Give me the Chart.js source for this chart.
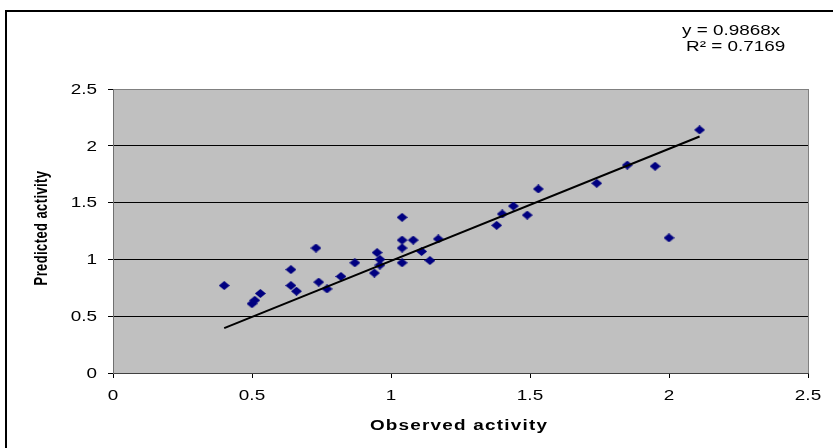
<!DOCTYPE html>
<html lang="en">
<head>
<meta charset="UTF-8">
<title>Observed vs predicted activity</title>
<script src="https://cdn.jsdelivr.net/npm/chart.js"></script>
<style>
  body { margin: 0; background: #fff; }
  canvas { display: block; }
</style>
</head>
<body>
<canvas id="chart" width="833" height="448"></canvas>
<script>
// observed / predicted activity
var observed = [0.40, 0.50, 0.51, 0.53, 0.64, 0.64, 0.66, 0.73, 0.74, 0.77,
                0.82, 0.87, 0.94, 0.95, 0.96, 0.96, 1.04, 1.04, 1.04, 1.04,
                1.08, 1.11, 1.14, 1.17, 1.38, 1.40, 1.44, 1.49, 1.53, 1.74,
                1.85, 1.95, 2.00, 2.11];
var predicted = [0.77, 0.61, 0.64, 0.70, 0.91, 0.77, 0.72, 1.10, 0.80, 0.74,
                 0.85, 0.97, 0.88, 1.06, 1.00, 0.95, 1.37, 1.17, 1.10, 0.97,
                 1.17, 1.07, 0.99, 1.18, 1.30, 1.40, 1.47, 1.39, 1.62, 1.67,
                 1.83, 1.82, 1.19, 2.14];
var xTicks = ['0', '0.5', '1', '1.5', '2', '2.5'];
var yTicks = ['0', '0.5', '1', '1.5', '2', '2.5'];
var slope = 0.9868;
var rSquared = '0.7169';

var points = observed.map(function (x, i) { return { x: x, y: predicted[i] }; });
var xMin = Math.min.apply(null, observed);
var xMax = Math.max.apply(null, observed);
var trend = [{ x: xMin, y: slope * xMin }, { x: xMax, y: slope * xMax }];

// slightly wide diamond marker
var diamond = document.createElement('canvas');
diamond.width = 11; diamond.height = 9;
var dc = diamond.getContext('2d');
dc.fillStyle = '#000080';
dc.beginPath();
dc.moveTo(5.5, 0); dc.lineTo(11, 4.5); dc.lineTo(5.5, 9); dc.lineTo(0, 4.5);
dc.closePath(); dc.fill();

var FONT = "'Liberation Sans', Arial, sans-serif";
var STRETCH = 1.35;

function wideText(ctx, text, x, y, align) {
  ctx.save();
  ctx.translate(x, y);
  ctx.scale(STRETCH, 1);
  ctx.textAlign = align;
  ctx.fillText(text, 0, 0);
  ctx.restore();
}

var excelLook = {
  id: 'excelLook',
  beforeDraw: function (chart) {
    var ctx = chart.ctx, a = chart.chartArea;
    ctx.save();
    ctx.fillStyle = '#c0c0c0';
    ctx.fillRect(a.left, a.top, a.right - a.left, a.bottom - a.top);
    ctx.restore();
  },
  beforeDatasetsDraw: function (chart) {
    var ctx = chart.ctx, a = chart.chartArea;
    ctx.save();
    ctx.strokeStyle = '#808080';
    ctx.lineWidth = 1;
    ctx.beginPath();
    ctx.moveTo(a.right + 0.5, a.top);
    ctx.lineTo(a.right + 0.5, a.bottom);
    ctx.stroke();
    ctx.restore();
  },
  afterDraw: function (chart) {
    var ctx = chart.ctx;
    var xs = chart.scales.x, ys = chart.scales.y;
    ctx.save();
    // outer chart frame
    ctx.fillStyle = '#000';
    ctx.fillRect(5, 10, 2, 448);
    ctx.fillRect(5, 10, 828, 2);

    ctx.fillStyle = '#000';
    ctx.font = '14px ' + FONT;
    ctx.textBaseline = 'middle';
    yTicks.forEach(function (t) {
      wideText(ctx, t, 97, ys.getPixelForValue(parseFloat(t)) + 1, 'right');
    });
    xTicks.forEach(function (t) {
      wideText(ctx, t, xs.getPixelForValue(parseFloat(t)), 396, 'center');
    });

    // trendline label
    wideText(ctx, 'y = ' + slope + 'x', 682, 31, 'left');
    wideText(ctx, 'R\u00b2 = ' + rSquared, 686, 47, 'left');

    // axis titles
    ctx.font = 'bold 14px ' + FONT;
    ctx.letterSpacing = '0.9px';
    wideText(ctx, 'Observed activity', 459, 426, 'center');

    ctx.font = 'bold 13px ' + FONT;
    ctx.letterSpacing = '0.4px';
    ctx.save();
    ctx.translate(42, 228);
    ctx.scale(STRETCH, 1);
    ctx.rotate(-Math.PI / 2);
    ctx.textAlign = 'center';
    ctx.fillText('Predicted activity', 0, 0);
    ctx.restore();
    ctx.letterSpacing = '0px';
    ctx.restore();
  }
};

new Chart(document.getElementById('chart'), {
  type: 'scatter',
  data: {
    datasets: [{
      type: 'line',
      data: trend,
      borderColor: '#000',
      borderWidth: 2,
      pointRadius: 0,
      fill: false
    }, {
      data: points,
      pointStyle: diamond,
      pointRadius: 5
    }]
  },
  options: {
    responsive: false,
    animation: false,
    layout: { padding: { left: 0, top: 89, right: 25, bottom: 0 } },
    plugins: { legend: { display: false }, tooltip: { enabled: false } },
    scales: {
      x: {
        type: 'linear',
        min: 0, max: 2.5,
        ticks: { stepSize: 0.5, display: false },
        grid: { drawOnChartArea: false, drawTicks: true, tickLength: 5, color: '#000' },
        border: { color: '#404040', width: 1 },
        afterFit: function (s) { s.height = 75; }
      },
      y: {
        min: 0, max: 2.5,
        ticks: { stepSize: 0.5, display: false },
        grid: {
          tickLength: 5,
          tickColor: '#000',
          color: function (c) { return c.tick && c.tick.value === 2.5 ? '#808080' : '#000'; }
        },
        border: { color: '#707070', width: 1 },
        afterFit: function (s) { s.width = 113; }
      }
    }
  },
  plugins: [excelLook]
});
</script>
</body>
</html>
